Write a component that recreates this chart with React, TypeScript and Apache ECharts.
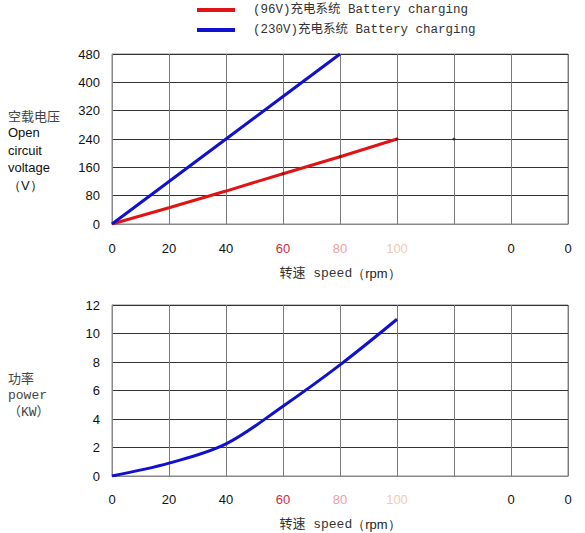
import React, { useEffect, useRef } from "react";
import * as echarts from "echarts";

// Data
const X_LABELS = ["0", "20", "40", "60", "80", "100", "", "0", "0"];
const X_LABEL_STYLES = ["n", "n", "n", "r", "p", "q", "n", "n", "n"];
const SPEED = [0, 20, 40, 60, 80, 100];
const VOLT_96 = [0, 46, 93, 142, 190, 240];
const SPEED_230 = [0, 20, 40, 60, 80];
const VOLT_230 = [0, 120, 240, 360, 480];
const EXTRA_DOT = [[120, 240]];
const POWER = [0, 0.9, 2.25, 4.9, 7.8, 11.0];
const MARKED_SPEEDS = [60, 80, 100];
const LEGEND_96 = "(96V)充电系统 Battery charging";
const LEGEND_230 = "(230V)充电系统 Battery charging";

const MONO = "'Liberation Mono', 'Noto Sans CJK SC', monospace";
const SANS = "'Liberation Sans', Arial, sans-serif";

export default function App() {
  const ref = useRef<HTMLDivElement>(null);
  useEffect(() => {
    if (!ref.current) return;
    const chart = echarts.init(ref.current, undefined, { renderer: "svg" });

    const xLabelRich = {
      n: { color: "#111", fontSize: 13, fontFamily: SANS },
      r: { color: "#d42a3a", fontSize: 13, fontFamily: SANS },
      p: { color: "#eba0a8", fontSize: 13, fontFamily: SANS },
      q: { color: "#f2c8b8", fontSize: 13, fontFamily: SANS },
    };
    const xFormatter = (v: number) => {
      const i = Math.round(v / 20);
      const lab = X_LABELS[i] ?? "";
      if (lab === "") return "";
      return `{${X_LABEL_STYLES[i]}|${lab}}`;
    };
    const xAxisBase = (gridIndex: number, nameGap: number, margin: number) => ({
      type: "value",
      gridIndex,
      min: 0,
      max: 160,
      interval: 20,
      name: "{c|转速 speed}{s|（rpm）}",
      nameLocation: "middle",
      nameGap,
      nameTextStyle: {
        fontFamily: MONO,
        fontSize: 13,
        fontWeight: "normal",
        color: "#333",
        rich: {
          c: { fontFamily: MONO, fontSize: 13, fontWeight: "normal", color: "#333" },
          s: { fontFamily: SANS, fontSize: 13, fontWeight: "normal", color: "#222" },
        },
      },
      axisLine: { show: true, lineStyle: { color: "#888", width: 1 } },
      axisTick: { show: false },
      axisLabel: { margin, formatter: xFormatter, rich: xLabelRich },
      splitLine: { show: true, lineStyle: { color: "#7a7a7a", width: 1 } },
    });

    const yAxisBase = (gridIndex: number, max: number, interval: number) => ({
      type: "value",
      gridIndex,
      min: 0,
      max,
      interval,
      axisLine: { show: true, lineStyle: { color: "#888" } },
      axisTick: { show: false },
      axisLabel: { color: "#111", fontSize: 13, fontFamily: SANS, margin: 12 },
      splitLine: { show: true, lineStyle: { color: "#333", width: 1 } },
    });

    const redData = SPEED.map((s, i) =>
      MARKED_SPEEDS.includes(s)
        ? { value: [s, VOLT_96[i]], symbol: "circle", symbolSize: 3, itemStyle: { color: "#8a1010" } }
        : { value: [s, VOLT_96[i]], symbol: "none" }
    );

    chart.setOption({
      animation: false,
      backgroundColor: "#fff",
      legend: {
        orient: "vertical",
        left: 197,
        top: 2,
        padding: 0,
        itemWidth: 38,
        itemHeight: 4,
        itemGap: 4,
        icon: "rect",
        data: [LEGEND_96, LEGEND_230],
        textStyle: {
          fontFamily: MONO,
          fontSize: 12.5,
          color: "#333",
          padding: [0, 0, 0, 13],
          lineHeight: 16,
        },
      },
      grid: [
        { left: 112, right: 17, top: 54, height: 170, show: true, borderColor: "#888", borderWidth: 1 },
        { left: 112, right: 17, top: 305, height: 171, show: true, borderColor: "#888", borderWidth: 1 },
      ],
      xAxis: [xAxisBase(0, 43, 18), xAxisBase(1, 42, 17)],
      yAxis: [
        {
          ...yAxisBase(0, 480, 80),
          name: "{c|空载电压}\n{s|Open}\n{s|circuit}\n{s|voltage}\n{s|（V）}",
          nameLocation: "middle",
          nameRotate: 0,
          nameGap: 104,
          nameTextStyle: {
            align: "left",
            padding: [22, 0, 0, 0],
            lineHeight: 17.5,
            rich: {
              c: { fontFamily: "'Noto Sans CJK SC'", fontSize: 13, color: "#444", lineHeight: 17.5 },
              s: { fontFamily: SANS, fontSize: 13, color: "#111", lineHeight: 17.5 },
            },
          },
        },
        {
          ...yAxisBase(1, 12, 2),
          name: "{c|功率}\n{m|power}\n{m|（KW）}",
          nameLocation: "middle",
          nameRotate: 0,
          nameGap: 104,
          nameTextStyle: {
            align: "left",
            padding: [9, 0, 0, 0],
            lineHeight: 17.5,
            rich: {
              c: { fontFamily: "'Noto Sans CJK SC'", fontSize: 13, color: "#444", lineHeight: 17.5 },
              m: { fontFamily: MONO, fontSize: 13, color: "#444", lineHeight: 17.5 },
            },
          },
        },
      ],
      series: [
        {
          name: LEGEND_96,
          type: "line",
          xAxisIndex: 0,
          yAxisIndex: 0,
          data: redData,
          showSymbol: true,
          itemStyle: { color: "#e01414" },
          lineStyle: { color: "#e01414", width: 3 },
          color: "#e01414",
          z: 3,
        },
        {
          name: LEGEND_230,
          type: "line",
          xAxisIndex: 0,
          yAxisIndex: 0,
          data: SPEED_230.map((s, i) => [s, VOLT_230[i]]),
          showSymbol: false,
          symbol: "none",
          itemStyle: { color: "#1010d0" },
          lineStyle: { color: "#1010d0", width: 3 },
          color: "#1010d0",
          z: 4,
        },
        {
          name: "dot",
          type: "scatter",
          xAxisIndex: 0,
          yAxisIndex: 0,
          data: EXTRA_DOT,
          symbolSize: 3,
          itemStyle: { color: "#222" },
        },
        {
          name: "power",
          type: "line",
          xAxisIndex: 1,
          yAxisIndex: 1,
          data: SPEED.map((s, i) => [s, POWER[i]]),
          smooth: 0.35,
          showSymbol: false,
          symbol: "none",
          lineStyle: { color: "#1010d0", width: 3 },
          color: "#1010d0",
        },
      ],
    });
    return () => chart.dispose();
  }, []);
  return (
    <div
      ref={ref}
      style={{ position: "fixed", left: 0, top: 0, width: 585, height: 533, background: "#fff" }}
    />
  );
}
